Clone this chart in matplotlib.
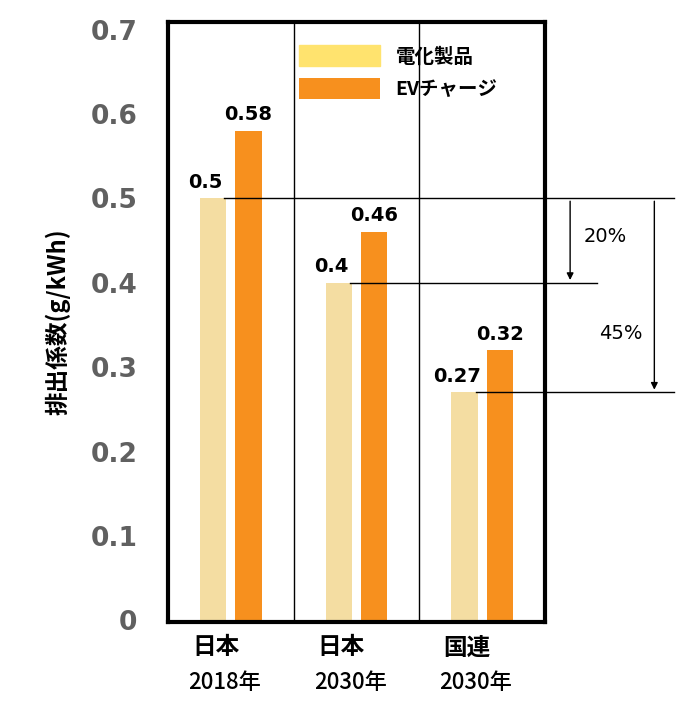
import matplotlib
matplotlib.use("Agg")
import matplotlib.pyplot as plt

plt.rcParams["font.family"] = "Noto Sans CJK JP"

categories = ["日本\n2018年", "日本\n2030年", "国連\n2030年"]
cat_top = ["日本", "日本", "国連"]
cat_bot = ["2018年", "2030年", "2030年"]
appliances = [0.5, 0.4, 0.27]
ev_charge = [0.58, 0.46, 0.32]
series_names = ["電化製品", "EVチャージ"]
yticks = [0, 0.1, 0.2, 0.3, 0.4, 0.5, 0.6, 0.7]

light = "#F4DDA2"
orange = "#F7901E"

fig = plt.figure(figsize=(6.77, 7.24), dpi=100)
ax = fig.add_axes([0.248, 0.141, 0.557, 0.829])
x = range(len(categories))
w = 0.21
off = 0.14
b1 = ax.bar([i - off for i in x], appliances, w, color=light)
b2 = ax.bar([i + off for i in x], ev_charge, w, color=orange)
ax.set_xlim(-0.5, 2.5)
ax.set_ylim(-0.002, 0.7095)
for s in ax.spines.values():
    s.set_linewidth(3)
for xv in [0.5, 1.5]:
    ax.axvline(xv, color="black", lw=1)

for i in x:
    ax.text(i - off - 0.06, appliances[i] + 0.008, f"{appliances[i]:g}", ha="center", va="bottom",
            fontsize=14, fontweight="bold", family="DejaVu Sans")
    ax.text(i + off, ev_charge[i] + 0.008, f"{ev_charge[i]:g}", ha="center", va="bottom",
            fontsize=14, fontweight="bold", family="DejaVu Sans")

ax.set_yticks(yticks)
ax.set_yticklabels([f"{v:g}" for v in yticks], fontsize=19, fontweight="bold", color="#606060",
                   family="DejaVu Sans")
ax.tick_params(axis="y", length=0, pad=22)
ax.set_xticks([])
for i in x:
    ax.text(i - 0.12, -0.018, cat_top[i], ha="center", va="top", fontsize=17, fontweight="bold")
    ax.text(i - 0.05, -0.06, cat_bot[i], ha="center", va="top", fontsize=16, fontweight="medium")
ax.set_ylabel("排出係数(g/kWh)", fontsize=17, fontweight="bold", labelpad=14)

# annotation lines
kw = dict(color="black", lw=1, clip_on=False)
ax.plot([-0.05, 3.53], [appliances[0]] * 2, **kw)
ax.plot([0.95, 2.91], [appliances[1]] * 2, **kw)
ax.plot([1.95, 3.53], [appliances[2]] * 2, **kw)
ax.annotate("", xy=(2.7, appliances[1]), xytext=(2.7, appliances[0]),
            arrowprops=dict(arrowstyle="-|>", color="black", lw=1), annotation_clip=False)
ax.annotate("", xy=(3.37, appliances[2]), xytext=(3.37, appliances[0]),
            arrowprops=dict(arrowstyle="-|>", color="black", lw=1), annotation_clip=False)
ax.text(2.98, 0.455, "20%", ha="center", va="center", fontsize=14, family="DejaVu Sans", clip_on=False)
ax.text(3.1, 0.34, "45%", ha="center", va="center", fontsize=14, family="DejaVu Sans", clip_on=False)

leg = ax.legend([b1, b2], series_names, loc="upper left", bbox_to_anchor=(0.3, 0.99), frameon=False,
                prop=dict(family="Noto Sans CJK JP", size=14, weight="bold"),
                handlelength=4.2, handleheight=1.3, labelspacing=0.6)
leg.legend_handles[0].set_color("#FFE36E")

fig.savefig("out.png", dpi=100)
